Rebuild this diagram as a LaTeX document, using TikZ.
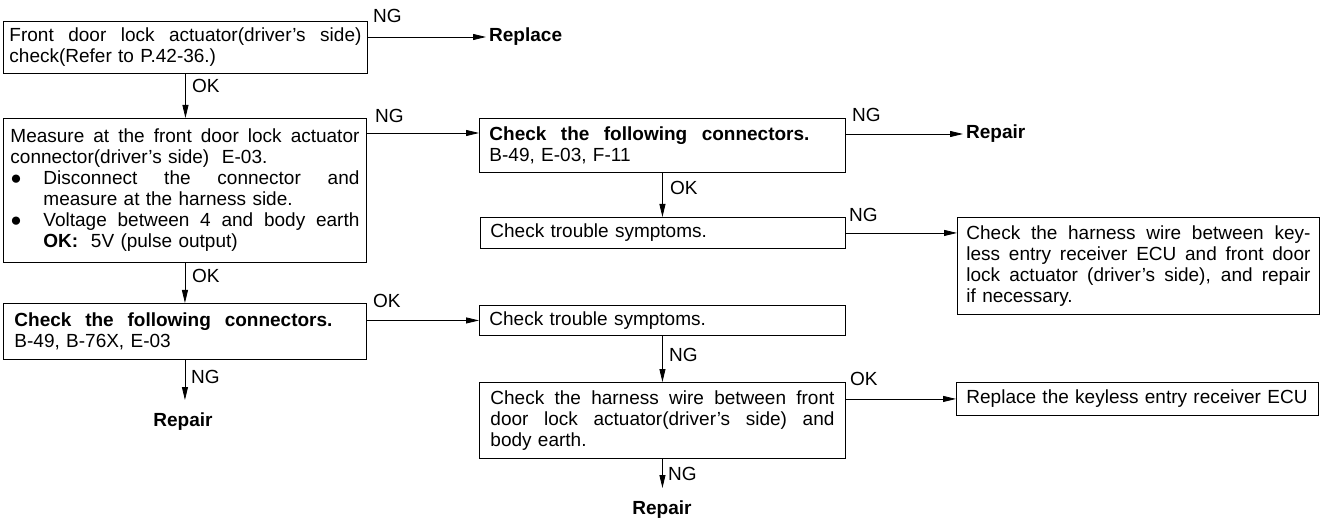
\documentclass[tikz,border=0pt]{standalone}
\usepackage{fontspec}
\setmainfont{Liberation Sans}
\usetikzlibrary{arrows.meta,calc}
\newcommand\sline[2]{\makebox[#1][s]{\spaceskip=0pt\xspaceskip=0pt #2}}
\newcommand\jl[1]{\sline{\linewidth}{#1}}
\begin{document}
\begin{tikzpicture}[x=1pt,y=-1pt,
  every node/.style={font=\fontsize{19}{21}\selectfont},
  box/.style={draw, line width=0.9pt, anchor=north west, align=left, inner ysep=2pt, inner xsep=10pt},
  arr/.style={line width=0.8pt, -{Triangle[length=13pt,width=6pt]}},
  lbl/.style={anchor=base west, inner sep=0pt},
  res/.style={font=\fontsize{19}{21}\selectfont\bfseries, inner sep=3pt},
]
\useasboundingbox (0,0) rectangle (1330,529);

% boxes
\node[box, inner xsep=6pt, text width=352pt, minimum height=52pt] (A) at (3,21)
  {\jl{Front door lock actuator(driver’s side)}\\ check(Refer to P.42-36.)};
\node[box, inner xsep=7pt, text width=349pt, minimum height=144pt] (B) at (3,118)
  {\jl{Measure at the front door lock actuator}\\
   connector(driver’s side)\ \ E-03.\\
   \jl{\makebox[33pt][l]{●}Disconnect the connector and}\\
   \hspace*{33pt}measure at the harness side.\\
   \jl{\makebox[33pt][l]{●}Voltage between 4 and body earth}\\
   \hspace*{33pt}\textbf{OK:}\ \ 5V (pulse output)};
\node[box, text width=346pt, minimum height=54pt] (C) at (479,118)
  {\sline{320pt}{\bfseries Check the following connectors.}\\ B-49, E-03, F-11};
\node[box, text width=345pt, minimum height=31pt] (D) at (480,217)
  {Check trouble symptoms.};
\node[box, inner xsep=9pt, text width=344pt, minimum height=97pt] (E) at (957,217)
  {\jl{Check the harness wire between key-}\\
   \jl{less entry receiver ECU and front door}\\
   \jl{lock actuator (driver’s side), and repair}\\
   if necessary.};
\node[box, inner xsep=11pt, text width=341pt, minimum height=56pt] (G) at (3,303)
  {\sline{318pt}{\bfseries Check the following connectors.}\\ B-49, B-76X, E-03};
\node[box, text width=346pt, minimum height=30pt] (F) at (479,305)
  {Check trouble symptoms.};
\node[box, inner xsep=11pt, text width=344pt, minimum height=76pt] (H) at (479,382)
  {\jl{Check the harness wire between front}\\
   \jl{door lock actuator(driver’s side) and}\\
   body earth.};
\node[box, text width=342pt, minimum height=33pt] (I) at (956,382)
  {Replace the keyless entry receiver ECU};

% results
\node[res, anchor=west] (RpA) at (486,37) {Replace};
\node[res, anchor=west] (RpC) at (963,134) {Repair};
\node[res, anchor=north, inner ysep=13pt] (RpG) at (183,400) {Repair};
\node[res, anchor=north, inner ysep=13pt] (RpH) at (662,488) {Repair};

% labels
\node[lbl] (l1) at (373,23) {NG};
\node[lbl] (l2) at (192,93) {OK};
\node[lbl] (l3) at (375,123) {NG};
\node[lbl] (l4) at (852,122) {NG};
\node[lbl] (l5) at (670,195) {OK};
\node[lbl] (l6) at (849,222) {NG};
\node[lbl] (l7) at (192,283) {OK};
\node[lbl] (l8) at (191,383) {NG};
\node[lbl] (l9) at (373,308) {OK};
\node[lbl] (l10) at (669,361) {NG};
\node[lbl] (l11) at (850,385) {OK};
\node[lbl] (l12) at (668,480) {NG};

% connectors
\coordinate (Cin) at ($(C.north west)+(0,15)$);
\draw[arr] (A.east |- RpA.west) -- (RpA.west);
\draw[arr] (A.south) -- (A.south |- B.north);
\draw[arr] (B.east |- Cin) -- (Cin);
\draw[arr] (C.east |- RpC.west) -- (RpC.west);
\draw[arr] (C.south) -- (C.south |- D.north);
\draw[arr] (D.east) -- (D.east -| E.west);
\draw[arr] (B.south) -- (B.south |- G.north);
\draw[arr] (G.south) -- (G.south |- RpG.north);
\draw[arr] (G.east |- F.west) -- (F.west);
\draw[arr] (F.south) -- (F.south |- H.north);
\draw[arr] (H.east |- I.west) -- (I.west);
\draw[arr] (H.south) -- (H.south |- RpH.north);
\end{tikzpicture}
\end{document}
